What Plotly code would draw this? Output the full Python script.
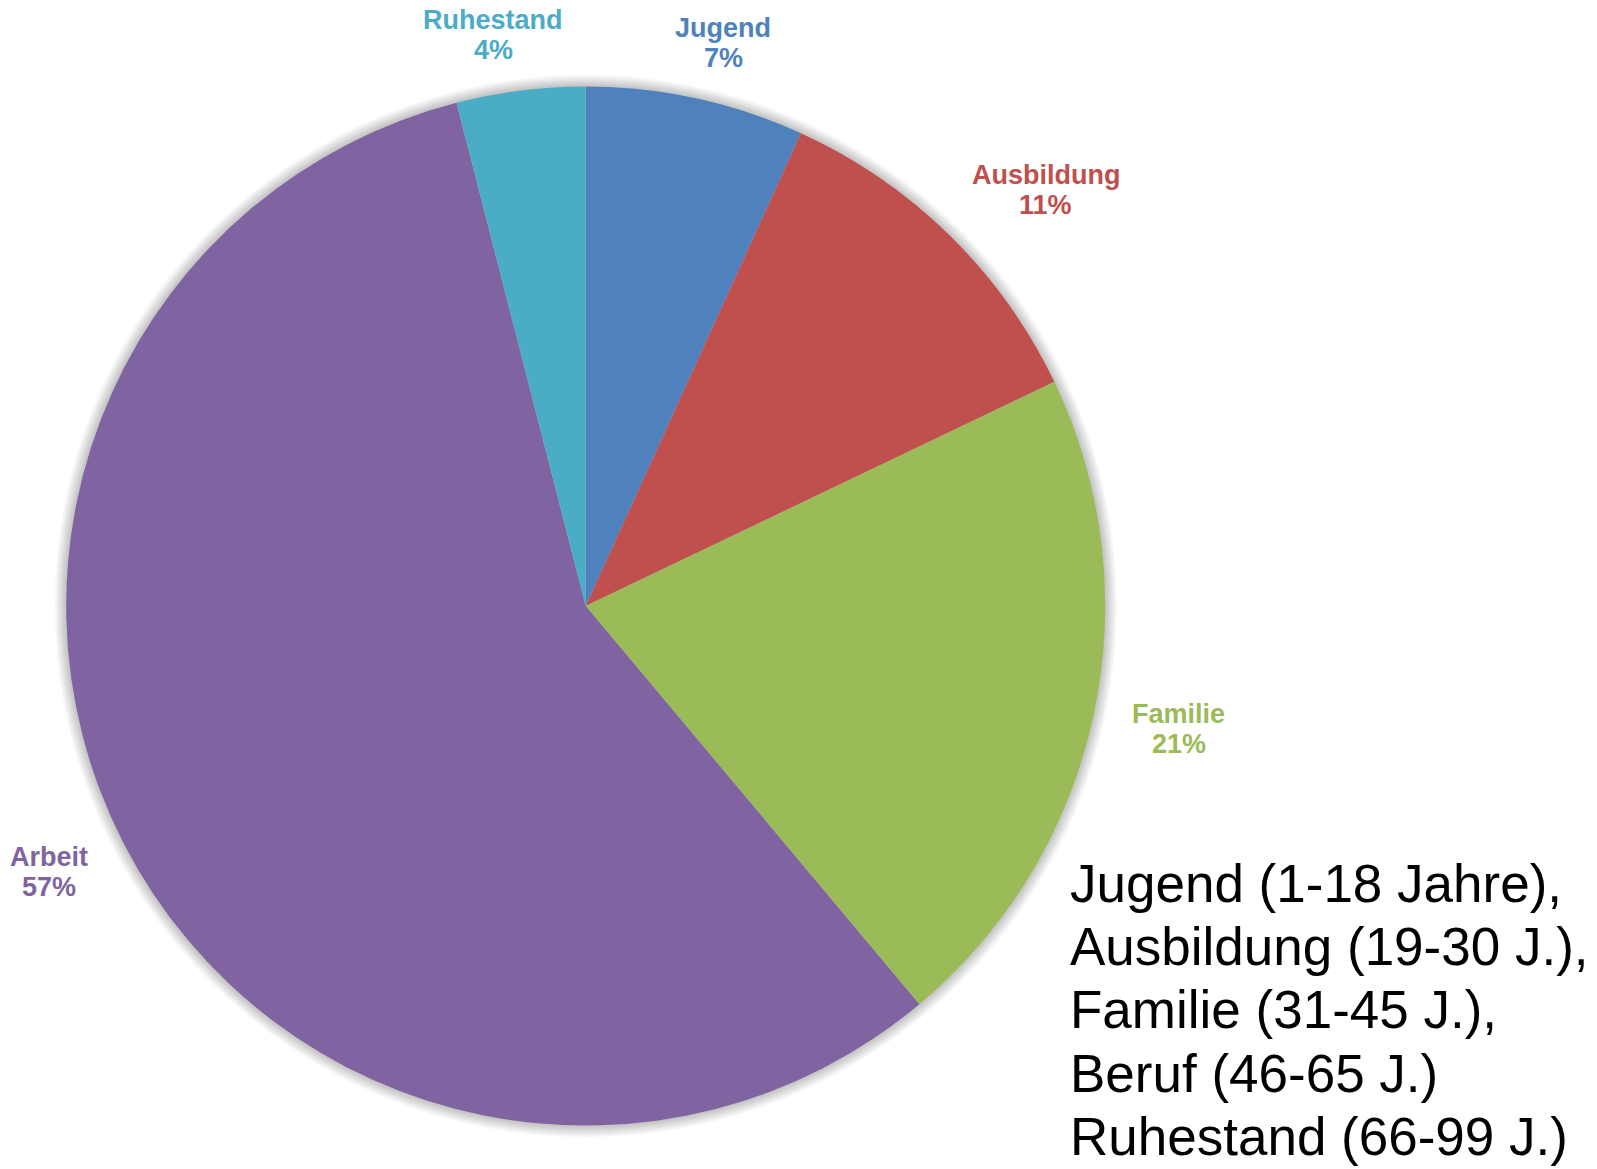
import math
import plotly.graph_objects as go

# ---- data ----
categories = ["Jugend", "Ausbildung", "Familie", "Arbeit", "Ruhestand"]
values = [6.8, 11.1, 21.0, 57.1, 4.0]
colors = ["#4F81BD", "#C0504D", "#9BBB59", "#8064A2", "#4BACC6"]
note_lines = [
    "Jugend (1-18 Jahre),",
    "Ausbildung (19-30 J.),",
    "Familie (31-45 J.),",
    "Beruf (46-65 J.)",
    "Ruhestand (66-99 J.)",
]

# ---- layout geometry (pixels) ----
W, H = 1597, 1169
CX, CY, R = 585.7, 606.0, 519.5
FONT = "Arial, Liberation Sans, sans-serif"
LABEL_SIZE = 27
GAP = 36
HALF_H = 23
LINE_STEP = 30

def px(x):
    return x / W

def py(y):
    return 1 - y / H

fig = go.Figure()
fig.add_trace(go.Pie(
    labels=categories,
    values=values,
    sort=False,
    direction="clockwise",
    rotation=0,
    marker=dict(colors=colors, line=dict(width=0)),
    textinfo="none",
    hoverinfo="label+percent",
    showlegend=False,
    domain=dict(x=[px(CX - R), px(CX + R)], y=[py(CY + R), py(CY - R)]),
))

# soft shadow around pie
shapes = []
for d in range(1, 13):
    rr = R + d
    shapes.append(dict(
        type="circle", xref="paper", yref="paper", layer="below",
        x0=px(CX - rr), x1=px(CX + rr), y0=py(CY + rr), y1=py(CY - rr),
        fillcolor="rgba(0,0,0,0.018)", line=dict(width=0),
    ))

annotations = []
total = sum(values)
cum = 0.0
for name, v, c in zip(categories, values, colors):
    mid = (cum + v / 2) / total * 2 * math.pi
    cum += v
    ux, uy = math.sin(mid), -math.cos(mid)
    m = max(abs(ux), abs(uy))
    sx = math.copysign(min(1.0, math.sqrt(abs(ux) / m)), ux)
    sy = math.copysign(min(1.0, math.sqrt(abs(uy) / m)), uy) if abs(uy) >= abs(ux) else uy / m
    hw = 0.265 * LABEL_SIZE * len(name)
    bx = CX + (R + GAP) * ux + hw * sx
    by = CY + (R + GAP) * uy + HALF_H * sy
    if uy < 0:
        by += 3
    pct = f"{round(v / total * 100)}%"
    for txt, yy in ((name, by - LINE_STEP / 2), (pct, by + LINE_STEP / 2)):
        annotations.append(dict(
            x=px(bx), y=py(yy), xref="paper", yref="paper",
            text=f"<b>{txt}</b>", showarrow=False,
            xanchor="center", yanchor="middle",
            font=dict(family=FONT, size=LABEL_SIZE, color=c),
        ))

NOTE_SIZE = 53
first_base = 901.7
step = 63.3
for i, line in enumerate(note_lines):
    base = first_base + i * step
    annotations.append(dict(
        x=px(1068), y=py(base - 0.35 * NOTE_SIZE), xref="paper", yref="paper",
        text=line, showarrow=False, xanchor="left", yanchor="middle",
        font=dict(family=FONT, size=NOTE_SIZE, color="#000000"),
    ))

fig.update_layout(
    width=W, height=H,
    margin=dict(l=0, r=0, t=0, b=0),
    paper_bgcolor="white", plot_bgcolor="white",
    shapes=shapes, annotations=annotations,
)

fig.write_html("out.html", config={"displayModeBar": False},
               post_script="document.body.style.margin='0';")
